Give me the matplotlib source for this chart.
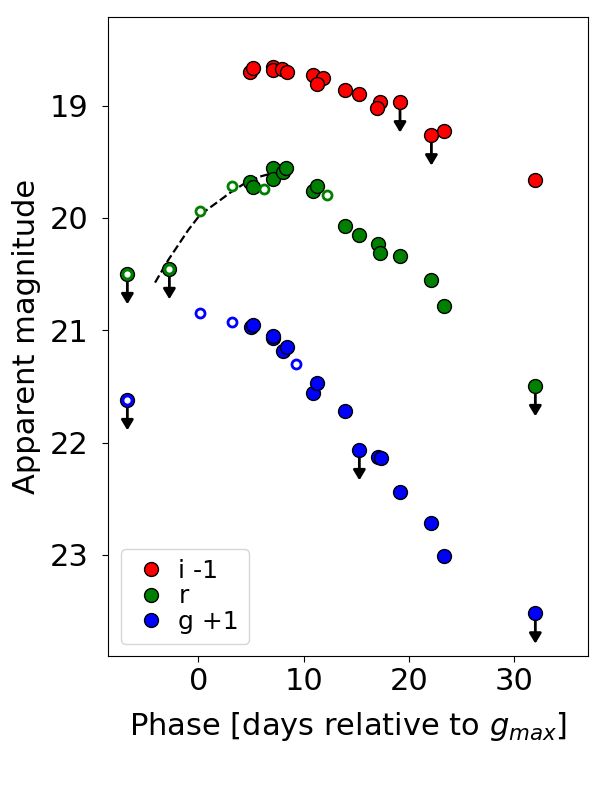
import matplotlib
matplotlib.use('Agg')
import matplotlib.pyplot as plt

# phases (days relative to g max) and magnitudes
# i band (plotted as i - 1)
i_phase = [4.91, 5.22, 7.07, 7.12, 7.98, 8.40, 10.92, 11.87, 11.30, 13.93, 15.29, 17.26, 17.00, 23.36, 32.00]
i_mag = [19.703, 19.667, 19.658, 19.682, 19.676, 19.700, 19.727, 19.756, 19.809, 19.866, 19.898, 19.967, 20.023, 20.228, 20.662]
i_lim_phase = [19.15, 22.13]
i_lim_mag = [19.970, 20.264]

# r band
r_phase = [4.91, 5.22, 7.07, 7.07, 8.02, 8.33, 10.92, 11.30, 13.93, 15.29, 17.04, 17.26, 19.15, 22.10, 23.36]
r_mag = [19.677, 19.721, 19.557, 19.655, 19.588, 19.557, 19.757, 19.715, 20.071, 20.151, 20.232, 20.314, 20.338, 20.551, 20.784]
r_open_phase = [0.16, 3.23, 6.24, 12.25]
r_open_mag = [19.938, 19.715, 19.744, 19.795]
r_lim_phase = [-6.74, -2.75, 32.00]
r_lim_mag = [20.499, 20.454, 21.496]
r_lim_open = [True, True, False]

# g band (plotted as g + 1)
g_phase = [4.98, 5.22, 7.07, 7.12, 8.02, 8.40, 10.92, 11.30, 13.93, 17.04, 17.32, 19.15, 22.10, 23.36]
g_mag = [19.973, 19.953, 20.071, 20.048, 20.182, 20.151, 20.561, 20.471, 20.719, 21.126, 21.140, 21.440, 21.719, 22.010]
g_open_phase = [0.16, 3.17, 9.25]
g_open_mag = [19.849, 19.929, 20.300]
g_lim_phase = [-6.74, 15.29, 32.00]
g_lim_mag = [20.621, 21.066, 22.520]
g_lim_open = [True, False, False]

# dashed rise curve in r
fit_phase = [-4.11, -2.85, -0.95, 0.16, 1.75, 3.17, 4.43, 5.86, 6.81]
fit_mag = [20.576, 20.374, 20.107, 19.973, 19.864, 19.766, 19.691, 19.632, 19.608]

i_off = -1
g_off = 1
arrow_len = 0.27

fig = plt.figure(figsize=(6, 8), dpi=100)
ax = fig.add_axes([0.1805, 0.18, 0.7995, 0.799])

ax.plot(fit_phase, fit_mag, '--', color='k', lw=1.6, zorder=2)


def draw_band(phase, mag, open_phase, open_mag, lim_phase, lim_mag, lim_open, color, off, label):
    ax.plot(phase, [m + off for m in mag], 'o', color=color, mec='k', mew=1.0, ms=10,
            ls='none', label=label, zorder=4)
    ax.plot(open_phase, [m + off for m in open_mag], 'o', mfc='white', mec=color, mew=2.0,
            ms=6.5, ls='none', zorder=4)
    for p, m, op in zip(lim_phase, lim_mag, lim_open):
        y = m + off
        ax.annotate('', xy=(p, y + arrow_len), xytext=(p, y),
                    arrowprops=dict(arrowstyle='-|>,head_length=0.5,head_width=0.3',
                                    color='k', lw=2, mutation_scale=12,
                                    shrinkA=0, shrinkB=0), zorder=3)
        ax.plot([p], [y], 'o', color=color, mec='k', mew=1.0, ms=10, zorder=4)
        if op:
            ax.plot([p], [y], 'o', mfc='white', mec=color, mew=2.0, ms=6.5, zorder=5)


draw_band(i_phase, i_mag, [], [], i_lim_phase, i_lim_mag, [False, False], 'red', i_off, 'i -1')
draw_band(r_phase, r_mag, r_open_phase, r_open_mag, r_lim_phase, r_lim_mag, r_lim_open, 'green', 0, 'r')
draw_band(g_phase, g_mag, g_open_phase, g_open_mag, g_lim_phase, g_lim_mag, g_lim_open, 'blue', g_off, 'g +1')

ax.set_xlim(-8.55, 37.0)
ax.set_ylim(23.90, 18.21)
ax.set_xticks([0, 10, 20, 30])
ax.set_yticks([19, 20, 21, 22, 23])
ax.tick_params(labelsize=22, length=4.5)
ax.tick_params(axis='y', pad=10)
ax.set_xlabel('Phase [days relative to $g_{max}$]', fontsize=22, labelpad=10)
ax.set_ylabel('Apparent magnitude', fontsize=22, labelpad=6)
ax.legend(loc='lower left', fontsize=18, handletextpad=0.3, borderpad=0.4,
          labelspacing=0.05, handlelength=1.6)

fig.savefig('out.png', dpi=100)
